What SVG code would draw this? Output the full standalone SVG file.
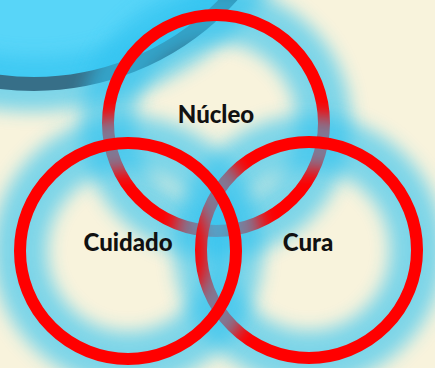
<svg xmlns="http://www.w3.org/2000/svg" width="435" height="368" viewBox="0 0 435 368">
  <defs>
    <filter id="blur" x="-40%" y="-40%" width="180%" height="180%">
      <feGaussianBlur stdDeviation="9"/>
    </filter>
    <style>
      .glow { fill: none; stroke: #32c3f0; stroke-width: 54; opacity: 0.62; filter: url(#blur); }
      .ring { fill: none; stroke: #ff0000; stroke-width: 12; }
      .label { font-family: Lato, "Liberation Sans", sans-serif; font-weight: 900; font-size: 24px; fill: #111111; text-anchor: middle; }
    </style>
  </defs>
  <rect x="0" y="0" width="435" height="368" fill="#f8f3dc"/>
  <g id="backdrop">
    <circle cx="34" cy="-182" r="266" fill="#58d5f8"/>
    <circle class="glow" cx="34" cy="-182" r="266"/>
    <circle cx="34" cy="-182" r="266" fill="none" stroke="#376f88" stroke-width="14"/>
  </g>
  <g id="connectors"></g>
  <g id="nucleo">
    <circle class="glow" cx="216" cy="123" r="108"/>
    <circle class="ring" cx="216" cy="123" r="108"/>
  </g>
  <g id="cura">
    <circle class="glow" cx="309" cy="250" r="108"/>
    <circle class="ring" cx="309" cy="250" r="108"/>
  </g>
  <g id="cuidado">
    <circle class="glow" cx="128" cy="251" r="108"/>
    <circle class="ring" cx="128" cy="251" r="108"/>
  </g>
  <g id="labels">
    <text class="label" x="216" y="123">Núcleo</text>
    <text class="label" x="128" y="251">Cuidado</text>
    <text class="label" x="308" y="251">Cura</text>
  </g>
</svg>
